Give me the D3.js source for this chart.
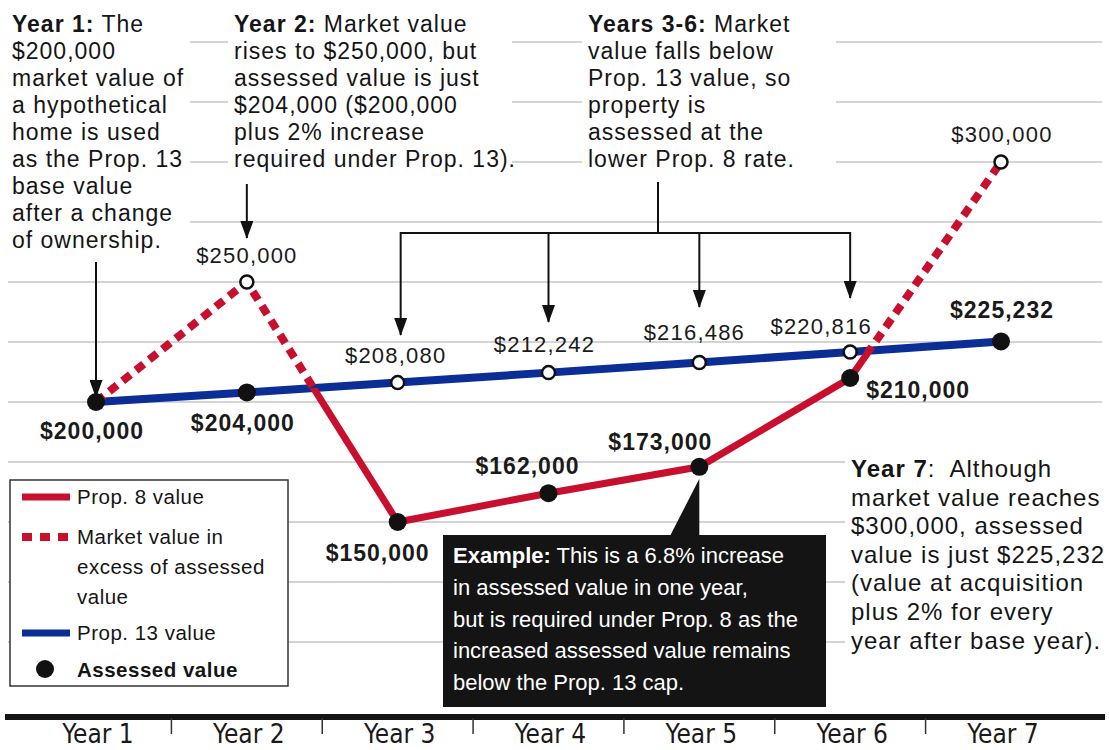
<!DOCTYPE html>
<html lang="en">
<head>
<meta charset="UTF-8">
<title>Prop. 8 and Prop. 13 assessed value</title>
<style>
  body { margin: 0; background: #fff; }
  svg { display: block; font-family: "Liberation Sans", Arial, sans-serif; }
  .grid line { stroke: #a9a9a9; stroke-width: 1.2px; }
  .note { font-size: 23px; letter-spacing: 1px; fill: #151515; white-space: pre; }
  .note-big { font-size: 24px; }
  .val { font-size: 22px; letter-spacing: 1.2px; fill: #1a1a1a; text-anchor: middle; }
  .val-bold { font-size: 23px; font-weight: bold; letter-spacing: 1px; }
  .legend text { font-size: 20.5px; letter-spacing: 0.5px; fill: #151515; }
  .example text { font-size: 22px; fill: #fff; }
  .year-label { font-family: "Liberation Sans Narrow", "Arial Narrow", "DejaVu Sans Condensed", sans-serif;
                font-size: 26px; fill: #1a1a1a; text-anchor: middle; }
  .pointer { stroke: #111; stroke-width: 2px; fill: none; }
</style>
</head>
<body>
<script src="https://d3js.org/d3.v7.min.js"></script>
<script>
// data
const years = ["Year 1", "Year 2", "Year 3", "Year 4", "Year 5", "Year 6", "Year 7"];
const marketValue = [200000, 250000, 150000, 162000, 173000, 210000, 300000];
const prop13Value = [200000, 204000, 208080, 212242, 216486, 220816, 225232];
const assessedValue = [200000, 204000, 150000, 162000, 173000, 210000, 225232];
const gridValues = [100000, 125000, 150000, 175000, 200000, 225000, 250000, 275000, 300000, 325000, 350000];

const width = 1109, height = 750;
const red = "#c8102e", blue = "#0b2d96";

const x = d3.scalePoint().domain(years).range([96, 1001]);
const y = d3.scaleLinear().domain([200000, 300000]).range([402, 162]);
const fmt = d3.format("$,");

const svg = d3.select("body").append("svg")
  .attr("width", width)
  .attr("height", height);

const defs = svg.append("defs");
defs.append("marker")
  .attr("id", "arrow")
  .attr("viewBox", "0 -6.5 18 13")
  .attr("refX", 17)
  .attr("refY", 0)
  .attr("markerWidth", 18)
  .attr("markerHeight", 13)
  .attr("markerUnits", "userSpaceOnUse")
  .attr("orient", "auto")
  .append("path")
  .attr("d", "M0,-6.5L18,0L0,6.5Z")
  .attr("fill", "#111");

// clip regions above / below the Prop. 13 line
const rows = years.map((yr, i) => ({yr, market: marketValue[i], p13: prop13Value[i], assessed: assessedValue[i]}));
defs.append("clipPath").attr("id", "above").append("path")
  .attr("d", d3.area().x(d => x(d.yr)).y0(0).y1(d => y(d.p13))(rows));
defs.append("clipPath").attr("id", "below").append("path")
  .attr("d", d3.area().x(d => x(d.yr)).y0(d => y(d.p13)).y1(height)(rows));

// gridlines
svg.append("g").attr("class", "grid")
  .selectAll("line").data(gridValues).join("line")
  .attr("x1", 8).attr("x2", 1102)
  .attr("y1", d => y(d)).attr("y2", d => y(d));

// annotation text blocks (white backing hides grid)
function note(x0, y0, lineH, lines, boxW, boxH, big) {
  const g = svg.append("g");
  g.append("rect").attr("x", x0 - 6).attr("y", y0 - 26).attr("width", boxW).attr("height", boxH).attr("fill", "#fff");
  const t = g.append("text").attr("class", big ? "note note-big" : "note");
  lines.forEach((ln, i) => {
    const parts = Array.isArray(ln) ? ln : [["", ln]];
    parts.forEach(([b, s], j) => {
      if (b) t.append("tspan").attr("x", j === 0 ? x0 : null).attr("y", j === 0 ? y0 + i * lineH : null)
        .attr("font-weight", "bold").text(b);
      if (s) t.append("tspan").attr("x", (j === 0 && !b) ? x0 : null).attr("y", (j === 0 && !b) ? y0 + i * lineH : null)
        .text(s);
    });
  });
}

note(12, 32, 27, [
  [["Year 1:", " The"]], "$200,000", "market value of", "a hypothetical", "home is used",
  "as the Prop. 13", "base value", "after a change", "of ownership."
], 184, 258);

note(234, 32, 27, [
  [["Year 2:", " Market value"]], "rises to $250,000, but", "assessed value is just",
  "$204,000 ($200,000", "plus 2% increase", "required under Prop. 13)."
], 284, 172);

note(588, 32, 27, [
  [["Years 3-6:", " Market"]], "value falls below", "Prop. 13 value, so", "property is",
  "assessed at the", "lower Prop. 8 rate."
], 254, 172);

note(851, 477, 28.6, [
  [["Year 7", ":  Although"]], "market value reaches", "$300,000, assessed",
  "value is just $225,232", "(value at acquisition", "plus 2% for every", "year after base year)."
], 264, 210, true);

// legend
const legend = svg.append("g").attr("class", "legend");
legend.append("rect").attr("x", 10).attr("y", 480).attr("width", 278).attr("height", 206)
  .attr("fill", "#fff").attr("stroke", "#333").attr("stroke-width", 1.5);
legend.append("line").attr("x1", 22).attr("x2", 70).attr("y1", 497).attr("y2", 497)
  .attr("stroke", red).attr("stroke-width", 7);
legend.append("line").attr("x1", 22).attr("x2", 70).attr("y1", 537).attr("y2", 537)
  .attr("stroke", red).attr("stroke-width", 8).attr("stroke-dasharray", "10,8");
legend.append("line").attr("x1", 22).attr("x2", 70).attr("y1", 633).attr("y2", 633)
  .attr("stroke", blue).attr("stroke-width", 7);
legend.append("circle").attr("cx", 45).attr("cy", 669).attr("r", 9).attr("fill", "#111");
[["Prop. 8 value", 504], ["Market value in", 544], ["excess of assessed", 574], ["value", 604], ["Prop. 13 value", 640]]
  .forEach(([s, yy]) => legend.append("text").attr("x", 77).attr("y", yy).text(s));
legend.append("text").attr("x", 77).attr("y", 677).attr("font-weight", "bold").text("Assessed value");

// example call-out
const ex = svg.append("g").attr("class", "example");
ex.append("rect").attr("x", 443).attr("y", 535).attr("width", 383).attr("height", 172).attr("fill", "#141414");
ex.append("path")
  .attr("d", `M670,536L${x("Year 5")},536L${x("Year 5")},${y(173000) + 12}Z`)
  .attr("fill", "#141414");
const exLines = [
  ["Example:", " This is a 6.8% increase"],
  ["", "in assessed value in one year,"],
  ["", "but is required under Prop. 8 as the"],
  ["", "increased assessed value remains"],
  ["", "below the Prop. 13 cap."]
];
exLines.forEach(([b, s], i) => {
  const t = ex.append("text").attr("x", 453).attr("y", 563 + i * 31.8).style("white-space", "pre");
  if (b) t.append("tspan").attr("font-weight", "bold").text(b);
  t.append("tspan").text(s);
});

// x axis
svg.append("line").attr("x1", 5).attr("x2", 1105).attr("y1", 717).attr("y2", 717)
  .attr("stroke", "#141414").attr("stroke-width", 6);
const mids = years.slice(1).map((yr, i) => (x(years[i]) + x(yr)) / 2);
svg.append("g").selectAll("line").data(mids).join("line")
  .attr("x1", d => d).attr("x2", d => d).attr("y1", 718).attr("y2", 734)
  .attr("stroke", "#333").attr("stroke-width", 1.5);
svg.append("g").selectAll("text").data(years).join("text")
  .attr("class", "year-label")
  .attr("x", d => x(d) + 2).attr("y", 743)
  .text(d => d);

// lines
const line = d3.line().x(d => x(d.yr));
svg.append("path").datum(rows)
  .attr("d", line.y(d => y(d.p13)))
  .attr("fill", "none").attr("stroke", blue).attr("stroke-width", 8);
svg.append("path").datum(rows)
  .attr("d", line.y(d => y(d.market)))
  .attr("clip-path", "url(#above)")
  .attr("fill", "none").attr("stroke", red).attr("stroke-width", 8)
  .attr("stroke-dasharray", "10,7");
svg.append("path").datum(rows)
  .attr("d", line.y(d => y(d.market)))
  .attr("clip-path", "url(#below)")
  .attr("fill", "none").attr("stroke", red).attr("stroke-width", 7);

// pointer arrows
const arrows = svg.append("g").attr("class", "pointer");
arrows.append("line").attr("x1", x("Year 1")).attr("x2", x("Year 1")).attr("y1", 262).attr("y2", 397)
  .attr("marker-end", "url(#arrow)");
arrows.append("line").attr("x1", x("Year 2")).attr("x2", x("Year 2")).attr("y1", 184).attr("y2", 238)
  .attr("marker-end", "url(#arrow)");
arrows.append("line").attr("x1", 658).attr("x2", 658).attr("y1", 182).attr("y2", 233);
arrows.append("line").attr("x1", x("Year 3") + 3).attr("x2", x("Year 6")).attr("y1", 233).attr("y2", 233);
[["Year 3", 335, 3], ["Year 4", 322, 0], ["Year 5", 307, 0], ["Year 6", 298, 0]].forEach(([yr, tip, off]) => {
  arrows.append("line").attr("x1", x(yr) + off).attr("x2", x(yr) + off).attr("y1", 232).attr("y2", tip)
    .attr("marker-end", "url(#arrow)");
});

// points
const openPts = [];
rows.forEach((d, i) => {
  if (d.market > d.p13) openPts.push({yr: d.yr, v: d.market});
  if (d.p13 > d.assessed) openPts.push({yr: d.yr, v: d.p13});
});
svg.append("g").selectAll("circle").data(openPts).join("circle")
  .attr("cx", d => x(d.yr)).attr("cy", d => y(d.v)).attr("r", 6.5)
  .attr("fill", "#fff").attr("stroke", "#111").attr("stroke-width", 2.5);
svg.append("g").selectAll("circle").data(rows).join("circle")
  .attr("cx", d => x(d.yr)).attr("cy", d => y(d.assessed)).attr("r", 9)
  .attr("fill", "#111");

// value labels (placement offsets relative to the point)
const labelSpots = [
  {yr: "Year 1", key: "assessed", bold: true, dx: -4, dy: 37},
  {yr: "Year 2", key: "assessed", bold: true, dx: -4, dy: 39},
  {yr: "Year 2", key: "market", bold: false, dx: 0, dy: -19},
  {yr: "Year 3", key: "p13", bold: false, dx: -2, dy: -20},
  {yr: "Year 4", key: "p13", bold: false, dx: -4, dy: -21},
  {yr: "Year 5", key: "p13", bold: false, dx: -5, dy: -22},
  {yr: "Year 6", key: "p13", bold: false, dx: -29, dy: -18},
  {yr: "Year 7", key: "market", bold: false, dx: 1, dy: -20},
  {yr: "Year 3", key: "assessed", bold: true, dx: -20, dy: 39},
  {yr: "Year 4", key: "assessed", bold: true, dx: -21, dy: -19},
  {yr: "Year 5", key: "assessed", bold: true, dx: -39, dy: -17},
  {yr: "Year 6", key: "assessed", bold: true, dx: 68, dy: 20},
  {yr: "Year 7", key: "assessed", bold: true, dx: 1, dy: -23}
];
const byYear = new Map(rows.map(d => [d.yr, d]));
svg.append("g").selectAll("text").data(labelSpots).join("text")
  .attr("class", d => d.bold ? "val val-bold" : "val")
  .attr("x", d => x(d.yr) + d.dx)
  .attr("y", d => y(byYear.get(d.yr)[d.key]) + d.dy)
  .text(d => fmt(byYear.get(d.yr)[d.key]));
</script>
</body>
</html>
